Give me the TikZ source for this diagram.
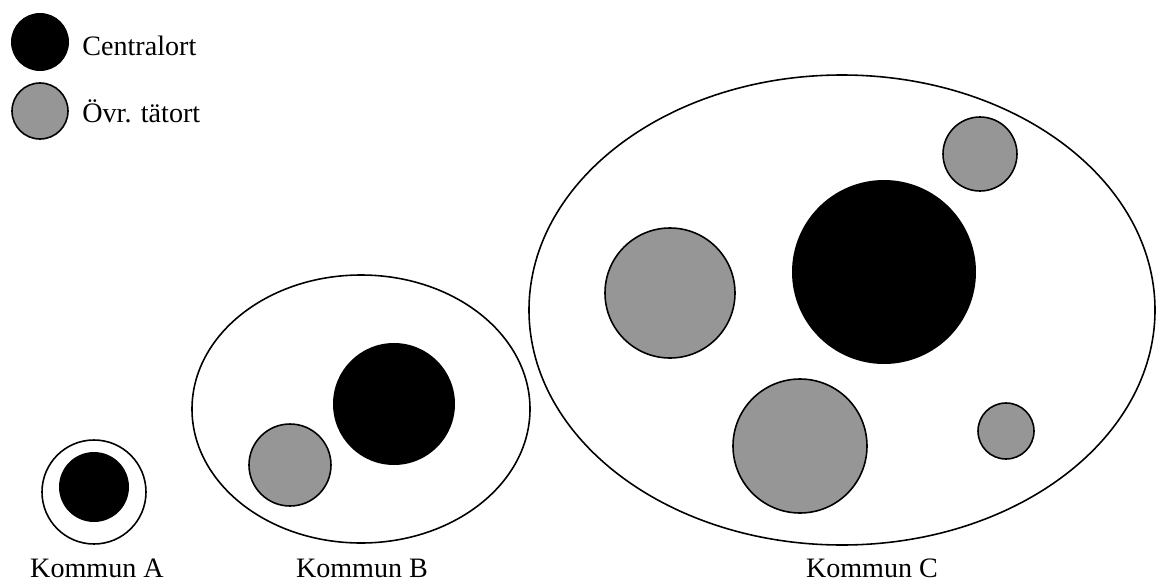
\documentclass[tikz,border=0pt]{standalone}
\usepackage{fontspec}
\setmainfont{Liberation Serif}
\definecolor{grayfill}{RGB}{150,150,150}
\begin{document}
\begin{tikzpicture}[x=0.02cm,y=-0.02cm,
  central/.style={fill=black},
  ovr/.style={draw=black,line width=0.9pt,fill=grayfill},
  kommun/.style={draw=black,line width=0.9pt},
  lbl/.style={font=\fontsize{16}{19}\selectfont,anchor=base,inner sep=0pt},
  leg/.style={font=\fontsize{16}{19}\selectfont,anchor=base west,inner sep=0pt}]
\useasboundingbox (0,0) rectangle (1157,585);
% legend
\fill[central] (40,42) circle (29);
\draw[ovr] (40,111) circle (28);
\node[leg] (lc) at (82,55) {Centralort};
\node[leg] (lo) at (82,122) {Övr. tätort};
% Kommun A
\draw[kommun] (94,492) circle (52);
\fill[central] (94,487) circle (35);
\node[lbl] (ka) at (97,577) {Kommun A};
% Kommun B
\draw[kommun] (361,409) ellipse (169 and 134);
\fill[central] (394,404) circle (61);
\draw[ovr] (290,465) circle (41);
\node[lbl] (kb) at (362,577) {Kommun B};
% Kommun C
\draw[kommun] (842,310) ellipse (313 and 235);
\fill[central] (884,272) circle (92);
\draw[ovr] (670,293) circle (65);
\draw[ovr] (800,446) circle (67);
\draw[ovr] (980,154) circle (37);
\draw[ovr] (1006,431) circle (28);
\node[lbl] (kc) at (872,577) {Kommun C};
\end{tikzpicture}
\end{document}
